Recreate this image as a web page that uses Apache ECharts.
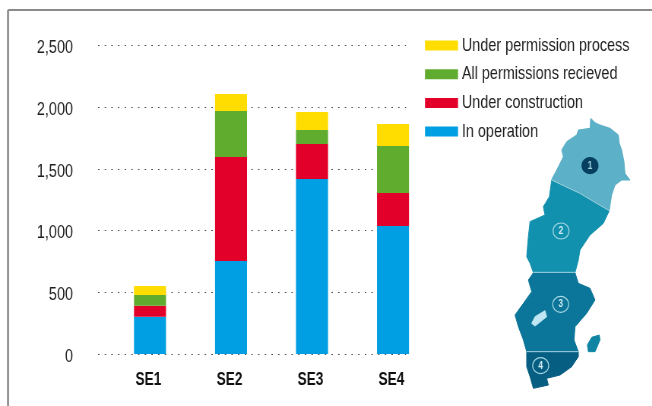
<!DOCTYPE html>
<html>
<head>
<meta charset="utf-8">
<style>
    html, body { margin: 0; padding: 0; background: #fff; overflow: hidden; }
    /* no narrow font installed, so the whole chart is squeezed sideways to get the condensed type */
    #chart { width: 858px; height: 406px; transform: scaleX(0.76); transform-origin: 0 0; }
</style>
<script src="https://cdn.jsdelivr.net/npm/echarts@6/dist/echarts.min.js"></script>
</head>
<body>
<div id="chart"></div>
<script>
    var categories = ['SE1', 'SE2', 'SE3', 'SE4'];
    var yTicks = [0, 500, 1000, 1500, 2000, 2500];
    var inOperation = [302, 754, 1418, 1037];
    var underConstruction = [89, 842, 284, 268];
    var permissionsReceived = [87, 373, 113, 381];
    var permissionProcess = [73, 138, 146, 178];

    var legendNames = ['Under permission process', 'All permissions recieved', 'Under construction', 'In operation'];
    var font = '"Liberation Sans", sans-serif';
    var squeeze = 0.76;

    var mapParts = [
        { color: '#5cb0c7', pts: [[272,55],[285,68],[300,75],[330,85],[355,105],[358,130],[365,150],[372,185],[375,220],[390,240],[365,240],[345,255],[335,285],[328,330],[290,308],[240,278],[155,238],[170,210],[190,170],[185,150],[200,125],[230,105],[235,90],[270,85]] },
        { color: '#1291ae', pts: [[155,240],[240,280],[290,310],[328,332],[310,370],[270,405],[240,450],[235,480],[225,518],[100,518],[90,490],[80,470],[85,410],[90,365],[135,345],[130,320],[148,290]] },
        { color: '#0b7699', pts: [[100,518],[225,518],[235,550],[270,565],[285,600],[260,640],[225,680],[222,720],[235,755],[80,755],[70,720],[55,680],[45,645],[70,610],[95,575],[85,540]] },
        { color: '#065f82', pts: [[80,755],[235,755],[235,770],[215,800],[180,825],[140,835],[145,855],[100,865],[90,830],[80,800]] },
        { color: '#0f84a3', pts: [[298,705],[300,720],[285,755],[265,755],[262,735],[275,712]] },
        { color: '#bfe6f2', pts: [[135,632],[140,650],[105,678],[95,670],[105,650]] }
    ];
    var mapBorders = [
        [[155,240],[240,280],[290,310],[328,332]],
        [[100,517],[225,517]],
        [[80,755],[235,755]]
    ];
    var mapBadges = [
        { n: '1', x: 270, y: 197, fill: '#063f60', stroke: '#063f60', text: '#9fd0de' },
        { n: '2', x: 183, y: 393, fill: '#1291ae', stroke: '#a5d8e4', text: '#d5eef4' },
        { n: '3', x: 182, y: 613, fill: '#0b7699', stroke: '#a5d8e4', text: '#d5eef4' },
        { n: '4', x: 122, y: 797, fill: '#065f82', stroke: '#a5d8e4', text: '#d5eef4' }
    ];

    // screen px to chart px
    function px(x) { return x / squeeze; }
    function mapX(x) { return px(500 + x / 3); }
    function mapY(y) { return 100 + y / 3; }
    function mapPoints(pts) {
        return pts.map(function (q) { return [mapX(q[0]), mapY(q[1])]; });
    }

    var graphics = [
        { type: 'line', shape: { x1: px(8), y1: 10, x2: px(652), y2: 10 }, style: { stroke: '#8a8a8a', lineWidth: 2 } },
        { type: 'rect', shape: { x: px(7), y: 10, width: px(2), height: 396 }, style: { fill: '#8a8a8a' } }
    ];
    mapParts.forEach(function (p) {
        graphics.push({ type: 'polygon', shape: { points: mapPoints(p.pts) }, style: { fill: p.color, stroke: p.color, lineWidth: 1 } });
    });
    mapBorders.forEach(function (b) {
        graphics.push({ type: 'polyline', shape: { points: mapPoints(b) }, style: { stroke: '#a9d6e0', lineWidth: 1, fill: null } });
    });
    mapBadges.forEach(function (b) {
        graphics.push({
            type: 'ellipse',
            shape: { cx: mapX(b.x), cy: mapY(b.y), rx: px(8), ry: 8 },
            style: { fill: b.fill, stroke: b.stroke, lineWidth: 1.2 }
        });
        graphics.push({
            type: 'text',
            x: mapX(b.x),
            y: mapY(b.y),
            style: { text: b.n, fill: b.text, font: 'bold 11px ' + font, align: 'center', verticalAlign: 'middle' }
        });
    });

    function barSeries(name, values, color) {
        return {
            name: name,
            type: 'bar',
            stack: 'total',
            xAxisIndex: 0,
            yAxisIndex: 0,
            barWidth: px(32),
            itemStyle: { color: color },
            data: values
        };
    }

    var myChart = echarts.init(document.getElementById('chart'), null, { renderer: 'canvas' });
    myChart.setOption({
        animation: false,
        backgroundColor: '#fff',
        // first grid holds the bars, second one only the dotted rules and tick labels
        grid: [
            { left: px(109.5), width: px(324), top: 45.5, height: 308.5 },
            { left: px(98), width: px(308), top: 45.5, height: 308.5 }
        ],
        legend: {
            orient: 'vertical',
            left: px(425),
            top: 36,
            padding: 0,
            itemWidth: px(33),
            itemHeight: 10,
            itemGap: 9.7,
            icon: 'rect',
            data: legendNames,
            textStyle: { fontFamily: font, fontSize: 19, color: '#1f1f1f' }
        },
        xAxis: [
            {
                type: 'category',
                gridIndex: 0,
                data: categories,
                axisLine: { show: false },
                axisTick: { show: false },
                axisLabel: { margin: 17, padding: [0, 4, 0, 0], fontFamily: font, fontWeight: 'bold', fontSize: 18, color: '#111' }
            },
            { type: 'category', gridIndex: 1, data: categories, show: false }
        ],
        yAxis: [
            { type: 'value', gridIndex: 0, min: 0, max: 2500, interval: 500, show: false },
            {
                type: 'value',
                gridIndex: 1,
                min: yTicks[0],
                max: yTicks[yTicks.length - 1],
                interval: yTicks[1] - yTicks[0],
                axisLine: { show: false },
                axisTick: { show: false },
                axisLabel: {
                    margin: px(25),
                    fontFamily: font,
                    fontSize: 19,
                    color: '#1f1f1f',
                    formatter: function (v) { return '{t|' + v.toLocaleString('en-US') + '}'; },
                    // label sits a little under its rule in the original
                    rich: { t: { fontFamily: font, fontSize: 19, color: '#1f1f1f', padding: [5, 0, 0, 0] } }
                },
                splitLine: { show: true, lineStyle: { color: '#444', width: 1, type: [px(1.4), px(5.27)] } }
            }
        ],
        series: [
            barSeries(legendNames[3], inOperation, '#009fe3'),
            barSeries(legendNames[2], underConstruction, '#e2002a'),
            barSeries(legendNames[1], permissionsReceived, '#60ac2e'),
            barSeries(legendNames[0], permissionProcess, '#ffdd00')
        ],
        graphic: graphics
    });
</script>
</body>
</html>
